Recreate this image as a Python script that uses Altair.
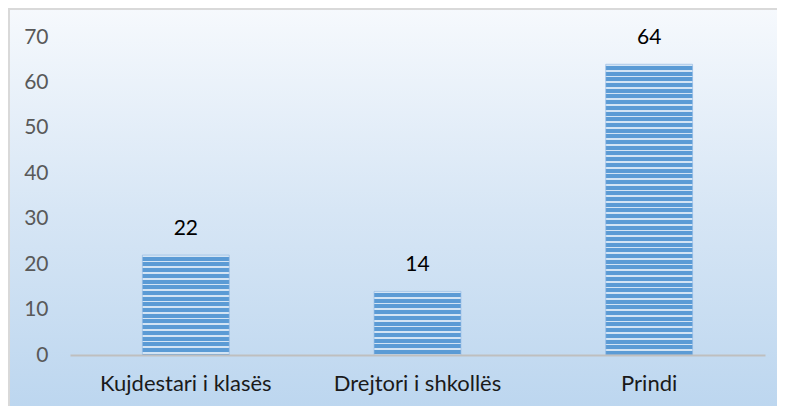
import altair as alt
import pandas as pd

categories = ["Kujdestari i klasës", "Drejtori i shkollës", "Prindi"]
values = [22, 14, 64]
y_ticks = [0, 10, 20, 30, 40, 50, 60, 70]

W, H = 695, 318
PAD = {"left": 62, "top": 29, "right": 12, "bottom": 51}
FONT = "Lato"
PX_PER_UNIT = H / 70.0

df = pd.DataFrame({"cat": categories, "val": values})
bg_df = pd.DataFrame({"k": [0]})


def stripe_gradient(v, period=5.7, line=1.7, blue="#5b9bd5", light="#d3e4f4"):
    h = v * PX_PER_UNIT
    stops = []
    y = 0.0
    while y < h:
        a = y / h
        b = min((y + line) / h, 1.0)
        c = min((y + period) / h, 1.0)
        stops += [
            alt.GradientStop(offset=a, color=light),
            alt.GradientStop(offset=b, color=light),
            alt.GradientStop(offset=b, color=blue),
            alt.GradientStop(offset=c, color=blue),
        ]
        y += period
    return alt.LinearGradient(gradient="linear", x1=0, y1=0, x2=0, y2=1, stops=stops)


x_enc = alt.X(
    "cat:N",
    sort=categories,
    scale=alt.Scale(domain=categories, paddingInner=0.625, paddingOuter=0.3125),
    axis=alt.Axis(
        title=None,
        labelAngle=0,
        ticks=False,
        domainColor="#bfbfbf",
        domainWidth=2,
        labelFont=FONT,
        labelFontSize=22,
        labelColor="#1a1a1a",
        labelPadding=18,
        zindex=1,
    ),
)
y_enc = alt.Y(
    "val:Q",
    scale=alt.Scale(domain=[0, 70], nice=False),
    axis=alt.Axis(
        title=None,
        values=y_ticks,
        grid=False,
        domain=False,
        ticks=False,
        labelFont=FONT,
        labelFontSize=21,
        labelColor="#595959",
        labelPadding=22,
        zindex=1,
    ),
)

background = alt.Chart(bg_df).mark_rect(
    color=alt.LinearGradient(
        gradient="linear", x1=0, y1=0, x2=0, y2=1,
        stops=[
            alt.GradientStop(offset=0, color="#f6f9fd"),
            alt.GradientStop(offset=0.5, color="#d7e6f5"),
            alt.GradientStop(offset=1, color="#bcd6ef"),
        ],
    ),
    stroke="#d9d9d9",
    strokeWidth=2,
).encode(
    x=alt.value(-PAD["left"] + 1),
    x2=alt.value(W + PAD["right"] + 5),
    y=alt.value(-PAD["top"] + 1),
    y2=alt.value(H + PAD["bottom"] + 5),
)

bars = [
    alt.Chart(df).transform_filter(alt.datum.cat == c).mark_bar(
        color=stripe_gradient(v), stroke="#8fb8e2", strokeWidth=1, strokeOpacity=0.6
    ).encode(x=x_enc, y=y_enc)
    for c, v in zip(categories, values)
]

labels = alt.Chart(df).mark_text(
    dy=-26, baseline="middle", font=FONT, fontSize=21, color="#000000"
).encode(x=x_enc, y=y_enc, text="val:Q")

chart = alt.layer(background, *bars, labels).properties(
    width=W, height=H, padding=PAD, autosize="none"
).configure_view(strokeWidth=0)

chart.save("out.html", embed_options={"renderer": "svg", "actions": False})
